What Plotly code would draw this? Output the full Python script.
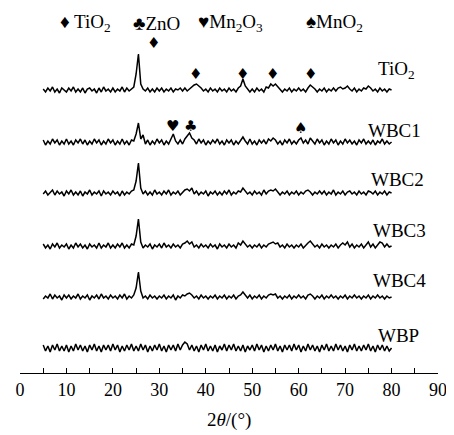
import plotly.graph_objects as go

# 2theta grid: 5..80 deg, 0.5 deg step
two_theta = [5 + 0.5 * i for i in range(151)]

tio2 = [
    1, -2, 2, -1, 3, -2, 1, -3, 2, 0,
    -2, 2, -1, 3, -2, 1, -2, 2, -3, 1,
    2, -1, 1, -3, 2, -2, 3, -1, 1, -2,
    2, -2, 1, -1, 3, -2, 2, -1, 1, 3,
    16, 36, 6, 1, -1, 2, -2, 1, -2, 2,
    -1, 2, -2, 1, -1, 2, -2, 1, 0, 2,
    -1, 2, -1, 1, 3, 5, 6, 4, 2, -1,
    1, -2, 2, -1, 1, -2, 2, -1, 1, -2,
    2, -1, 1, -2, 2, 4, 11, 4, 1, -2,
    1, -2, 2, -1, 1, -2, 3, 2, 6, 4,
    6, 3, 1, -2, 1, -1, 2, -2, 1, -1,
    2, -1, 1, -2, 2, 5, 3, 1, -2, 1,
    -1, 2, -2, 1, -1, 2, -1, 2, 3, 1,
    2, 4, 1, -1, 2, -2, 1, -1, 2, 1,
    4, 2, -1, 1, -2, 2, -1, 1, -2, 1, 0,
]
wbc1 = [
    2, -3, 1, -2, 3, -1, 2, -3, 1, -2,
    3, -2, 1, -3, 2, -1, 3, -2, 2, -3,
    1, -2, 3, -1, 2, -3, 1, -2, 3, -1,
    2, -3, 1, -2, 3, -2, 1, -3, 2, 1,
    8, 19, 3, 7, -2, 2, -3, 1, -2, 3,
    -1, 2, -3, 1, -2, 3, 8, 1, -2, 2,
    -2, 3, 6, 9, 4, 2, -2, 3, -1, 2,
    -3, 1, -2, 2, -1, 3, -2, 1, -3, 2,
    -1, 2, -3, 1, -2, 2, 5, 1, -2, 3,
    -2, 1, -3, 2, -1, 2, -2, 3, 1, 4,
    2, -2, 1, -3, 2, -1, 3, -2, 1, -2,
    2, 4, -1, 2, -2, 4, 1, -2, 3, -1,
    2, -3, 1, -2, 3, -1, 2, -3, 1, -2,
    3, -1, 2, -2, 1, -3, 2, -1, 3, -2,
    1, -2, 2, -3, 1, -1, 3, -2, 1, -2, 0,
]
wbc2 = [
    -1, 2, -2, 1, 3, -2, 2, -1, 1, -3,
    2, -1, 3, -2, 1, -2, 2, -3, 1, -1,
    3, -2, 1, -1, 2, -3, 2, -1, 1, -2,
    2, -1, 1, -3, 2, -2, 1, -1, 2, 3,
    12, 30, 5, -1, 2, -2, 1, -2, 3, -1,
    1, -2, 2, -1, 3, -2, 1, -1, 2, -2,
    1, 3, 4, 2, 5, -1, 2, -2, 1, -1,
    2, -3, 1, -1, 2, -2, 1, -2, 2, -1,
    3, -2, 1, -1, 2, 1, 5, 2, -1, 1,
    -2, 2, -1, 1, -2, 3, -1, 2, 3, 2,
    4, 1, -2, 1, -1, 2, -2, 1, -1, 2,
    -2, 1, -1, 2, 3, 1, -2, 1, -1, 2,
    -1, 2, -2, 1, -1, 3, -2, 1, -1, 2,
    -2, 1, 2, -1, 1, -2, 2, -1, 1, -2,
    2, 1, -1, 2, -2, 1, -1, 2, -2, 1, 0,
]
wbc3 = [
    2, -2, 1, -3, 2, -1, 3, -2, 1, -1,
    2, -3, 1, -2, 3, -1, 2, -2, 1, -3,
    2, -1, 1, -2, 3, -2, 1, -1, 3, -2,
    1, -2, 2, -1, 3, -2, 1, -2, 2, 1,
    10, 27, 4, -2, 1, -1, 2, -3, 1, -1,
    2, -2, 3, -1, 1, -2, 2, -1, 1, -2,
    2, 3, 5, 2, 4, -1, 1, -2, 2, -1,
    1, -2, 2, -1, 1, -3, 2, -1, 1, -2,
    2, -1, 1, -2, 3, 1, 5, 2, -1, 1,
    -2, 1, -1, 2, -2, 1, -1, 2, 3, 4,
    2, 3, -1, 1, -2, 2, -1, 1, -2, 1,
    -1, 2, -2, 1, 3, 5, 2, -1, 1, -2,
    2, -1, 1, -2, 1, -1, 2, -2, 1, 3,
    1, 4, -1, 2, -2, 1, -1, 2, -2, 1,
    4, -1, 2, -2, 1, 4, 3, -1, 2, -1, 0,
]
wbc4 = [
    -2, 1, -1, 3, -2, 2, -1, 1, -3, 2,
    -1, 2, -2, 1, -1, 3, -2, 1, -1, 2,
    -3, 1, -1, 2, -2, 3, -1, 1, -2, 2,
    -1, 1, -2, 2, -1, 3, -2, 1, -1, 2,
    9, 25, 6, -1, 1, -2, 2, -1, 1, -2,
    1, -1, 2, -2, 1, -1, 2, -3, 1, -1,
    2, 1, 3, 4, 2, -1, 1, -2, 2, -1,
    1, -2, 1, -1, 2, -2, 1, -1, 2, -2,
    1, -1, 2, -2, 1, 2, 5, 2, -1, 2,
    -2, 1, -1, 2, -2, 1, -1, 2, 3, 2,
    3, -1, 1, -2, 1, -1, 2, -2, 1, -1,
    2, -1, 1, -2, 2, 3, 1, -2, 1, -1,
    2, -2, 1, -1, 2, -1, 1, -2, 1, -1,
    2, -2, 1, -1, 2, -1, 1, -2, 1, -1,
    2, -2, 1, -1, 2, -1, 1, -2, 1, -1, 0,
]
wbp = [
    3, -3, 2, -4, 3, -2, 4, -3, 2, -3,
    3, -4, 2, -3, 4, -2, 3, -3, 2, -4,
    3, -2, 4, -3, 2, -4, 3, -2, 3, -3,
    4, -2, 3, -4, 2, -3, 3, -2, 4, -3,
    2, -3, 4, -2, 3, -4, 2, -3, 3, -2,
    4, -3, 2, -4, 3, -2, 3, -3, 4, -2,
    3, 6, 4, -2, 3, -3, 2, -4, 3, -2,
    4, -3, 2, -3, 3, -4, 2, -2, 4, -3,
    3, -2, 4, -3, 2, -3, 3, -4, 2, -2,
    3, -3, 4, -2, 3, -4, 2, -3, 3, -2,
    4, -3, 2, -4, 3, -2, 3, -3, 4, -2,
    3, -4, 2, -3, 4, -2, 3, -3, 2, -4,
    3, -2, 4, -3, 2, -3, 4, -2, 3, -3,
    2, -4, 3, -2, 4, -3, 2, -3, 3, -2,
    4, -3, 2, -4, 3, -2, 3, -3, 2, -3, 0,
]

sample_names = ["TiO<sub>2</sub>", "WBC1", "WBC2", "WBC3", "WBC4", "WBP"]
series = [tio2, wbc1, wbc2, wbc3, wbc4, wbp]
offsets = [283, 231, 180, 127, 76, 25]

# phase markers: (symbol, 2theta, height)
phase_marks = [
    ("♦", 28.7, 330), ("♦", 37.7, 299), ("♦", 47.9, 299), ("♦", 54.4, 299), ("♦", 62.6, 299),
    ("♥", 32.8, 247), ("♣", 36.7, 247), ("♠", 60.4, 245),
]
legend_items = [
    ("♦ TiO<sub>2</sub>", 8.2), ("♣ZnO", 24.0), ("♥Mn<sub>2</sub>O<sub>3</sub>", 38.0), ("♠MnO<sub>2</sub>", 61.2),
]
label_pos = [(76.6, 303), (74.4, 243), (75.1, 194), (75.5, 143), (75.5, 93), (76.6, 38)]

for s in series:
    assert len(s) == len(two_theta), len(s)

FONT = "Liberation Serif, Times New Roman, serif"
fig = go.Figure()
for name, vals, off in zip(sample_names, series, offsets):
    fig.add_trace(go.Scatter(
        x=two_theta, y=[v + off for v in vals], mode="lines",
        line=dict(color="black", width=1.5), name=name, showlegend=False,
    ))

annotations = []
for name, (lx, ly) in zip(sample_names, label_pos):
    annotations.append(dict(x=lx, y=ly, text=name, showarrow=False, xanchor="left", yanchor="middle",
                            font=dict(family=FONT, size=19, color="black")))
for sym, mx, my in phase_marks:
    annotations.append(dict(x=mx, y=my, text=sym, showarrow=False, xanchor="center", yanchor="middle",
                            font=dict(family="DejaVu Sans", size=15, color="black")))
for txt, lx in legend_items:
    annotations.append(dict(x=lx, y=350, text=txt, showarrow=False, xanchor="left", yanchor="middle",
                            font=dict(family=FONT, size=19, color="black")))
annotations.append(dict(x=45, y=-0.13, xref="x", yref="paper", text="2<i>θ</i>/(°)", showarrow=False,
                        xanchor="center", yanchor="middle", font=dict(family=FONT, size=19, color="black")))

tickvals = list(range(0, 95, 5))
ticktext = [str(v) if v % 10 == 0 else "" for v in tickvals]

# page body has an 8px default margin; size/margins compensate for it
fig.update_layout(
    width=446, height=427,
    margin=dict(l=12, r=16, t=2, b=62),
    paper_bgcolor="white", plot_bgcolor="white",
    xaxis=dict(range=[0, 90], showgrid=False, zeroline=False, showline=True, linecolor="black", linewidth=1,
               ticks="inside", ticklen=5, tickwidth=1, tickcolor="black", tickvals=tickvals, ticktext=ticktext,
               tickfont=dict(family=FONT, size=18, color="black"), ticklabeloverflow="allow"),
    yaxis=dict(range=[0, 363], visible=False),
    annotations=annotations,
)
fig.write_html("out.html")
